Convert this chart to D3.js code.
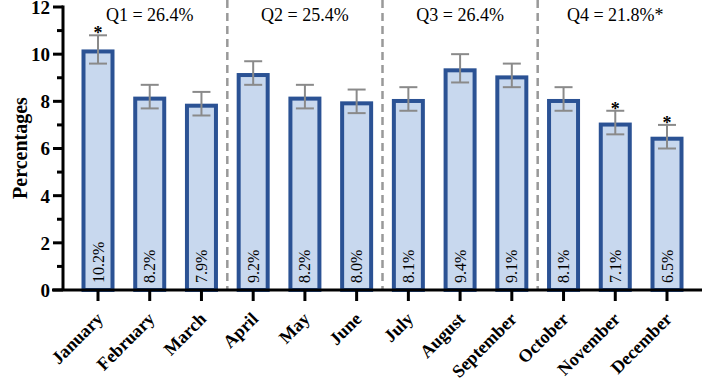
<!DOCTYPE html>
<html>
<head>
<meta charset="utf-8">
<script src="https://cdn.jsdelivr.net/npm/d3@7"></script>
<style>
  html, body { margin: 0; padding: 0; background: #fff; }
  svg { display: block; font-family: "Liberation Serif", "Times New Roman", serif; }
</style>
</head>
<body>
<svg id="chart"></svg>
<script>
// ---- data ----
const months = ["January","February","March","April","May","June","July","August","September","October","November","December"];
const values = [10.2, 8.2, 7.9, 9.2, 8.2, 8.0, 8.1, 9.4, 9.1, 8.1, 7.1, 6.5];
const errors = [0.6, 0.5, 0.5, 0.5, 0.5, 0.5, 0.5, 0.6, 0.5, 0.5, 0.5, 0.5];
const starred = [true, false, false, false, false, false, false, false, false, false, true, true];
const quarterLabels = ["Q1 = 26.4%", "Q2 = 25.4%", "Q3 = 26.4%", "Q4 = 21.8%*"];
const yTicks = [0, 2, 4, 6, 8, 10, 12];

// ---- layout ----
const width = 704, height = 383;
const svg = d3.select("#chart").attr("width", width).attr("height", height);

const x = d3.scalePoint().domain(months).range([98, 667]);
const barW = 29;
const y = d3.scaleLinear().domain([0, 12]).range([290, 7]);

const blue = "#2b5294", fill = "#c8d8ee", grey = "#8a8a8a";

// dashed quarter separators
[3, 6, 9].forEach(i => {
  const xs = (x(months[i - 1]) + x(months[i])) / 2;
  svg.append("line")
    .attr("x1", xs).attr("x2", xs)
    .attr("y1", 0).attr("y2", y(0))
    .attr("stroke", "#999").attr("stroke-width", 2.5)
    .attr("stroke-dasharray", "8,5");
});

// quarter labels
quarterLabels.forEach((t, q) => {
  const cx = x(months[q * 3 + 1]);
  svg.append("text")
    .attr("x", cx).attr("y", 21)
    .attr("text-anchor", "middle")
    .attr("font-size", 18)
    .text(t);
});

// bars
svg.selectAll("rect.bar")
  .data(months)
  .enter().append("rect")
  .attr("class", "bar")
  .attr("x", d => x(d) - barW / 2)
  .attr("y", (d, i) => y(values[i]) + 2)
  .attr("width", barW)
  .attr("height", (d, i) => y(0) - y(values[i]) - 2)
  .attr("fill", fill)
  .attr("stroke", blue)
  .attr("stroke-width", 4);

// error bars
const eb = svg.selectAll("g.err").data(months).enter().append("g")
  .attr("stroke", grey).attr("stroke-width", 2);
eb.append("line")
  .attr("x1", d => x(d)).attr("x2", d => x(d))
  .attr("y1", (d, i) => y(values[i] + errors[i]))
  .attr("y2", (d, i) => y(values[i] - errors[i]));
eb.append("line")
  .attr("x1", d => x(d) - 9).attr("x2", d => x(d) + 9)
  .attr("y1", (d, i) => y(values[i] + errors[i]))
  .attr("y2", (d, i) => y(values[i] + errors[i]));
eb.append("line")
  .attr("x1", d => x(d) - 9).attr("x2", d => x(d) + 9)
  .attr("y1", (d, i) => y(values[i] - errors[i]))
  .attr("y2", (d, i) => y(values[i] - errors[i]));

// significance stars
months.forEach((m, i) => {
  if (!starred[i]) return;
  svg.append("text")
    .attr("x", x(m)).attr("y", y(values[i] + errors[i]) + 4)
    .attr("text-anchor", "middle")
    .attr("font-size", 18)
    .attr("font-weight", "bold")
    .text("*");
});

// value labels inside bars
svg.selectAll("text.val")
  .data(months)
  .enter().append("text")
  .attr("class", "val")
  .attr("transform", d => `translate(${x(d) + 5.5},${y(0) - 7}) rotate(-90)`)
  .attr("font-size", 16)
  .text((d, i) => values[i].toFixed(1) + "%");

// y axis
const yAxis = svg.append("g").attr("transform", "translate(63,0)");
yAxis.append("line")
  .attr("x1", 0).attr("x2", 0).attr("y1", y(12) - 1.5).attr("y2", y(0))
  .attr("stroke", "#000").attr("stroke-width", 3);
d3.range(0, 13).forEach(v => {
  const major = v % 2 === 0;
  yAxis.append("line")
    .attr("x1", major ? -10 : -6).attr("x2", 0)
    .attr("y1", y(v)).attr("y2", y(v))
    .attr("stroke", "#000").attr("stroke-width", 3);
});
yAxis.selectAll("text.ytick")
  .data(yTicks)
  .enter().append("text")
  .attr("x", -13).attr("y", d => y(d))
  .attr("dy", "0.36em")
  .attr("text-anchor", "end")
  .attr("font-size", 19)
  .attr("font-weight", "bold")
  .text(d => d);

svg.append("text")
  .attr("transform", "translate(27,148) rotate(-90)")
  .attr("text-anchor", "middle")
  .attr("font-size", 20)
  .attr("font-weight", "bold")
  .text("Percentages");

// x axis
svg.append("line")
  .attr("x1", 52).attr("x2", 702)
  .attr("y1", y(0)).attr("y2", y(0))
  .attr("stroke", "#000").attr("stroke-width", 3);
months.forEach(m => {
  svg.append("line")
    .attr("x1", x(m)).attr("x2", x(m))
    .attr("y1", y(0)).attr("y2", y(0) + 11)
    .attr("stroke", "#000").attr("stroke-width", 3);
});
svg.selectAll("text.xlab")
  .data(months)
  .enter().append("text")
  .attr("transform", d => `translate(${x(d) + 6},${y(0) + 30}) rotate(-45)`)
  .attr("text-anchor", "end")
  .attr("font-size", 18)
  .attr("font-weight", "bold")
  .text(d => d);
</script>
</body>
</html>
